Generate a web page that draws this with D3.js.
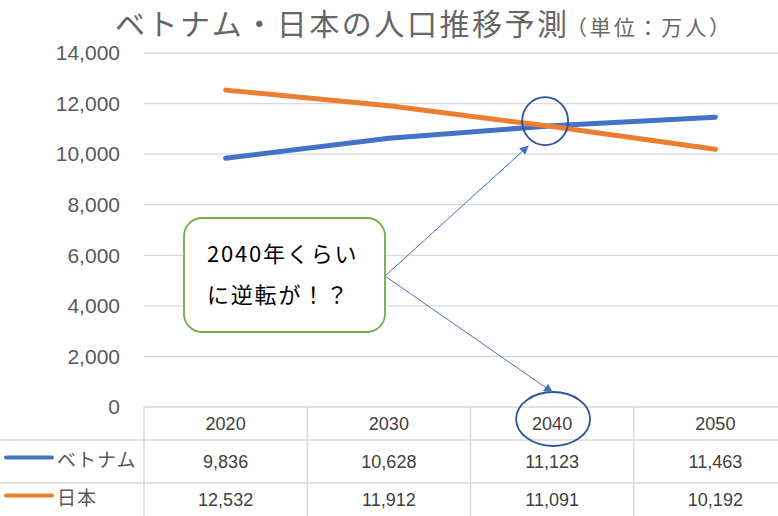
<!DOCTYPE html>
<html>
<head>
<meta charset="utf-8">
<script src="https://cdn.jsdelivr.net/npm/d3@7"></script>
<style>
  body { margin: 0; background: #fff; }
  svg { display: block; }
</style>
</head>
<body>
<script>
var width = 778;
var height = 516;

// data
var years = ["2020", "2030", "2040", "2050"];
var vietnam = [9836, 10628, 11123, 11463];
var japan = [12532, 11912, 11091, 10192];
var yTicks = [0, 2000, 4000, 6000, 8000, 10000, 12000, 14000];
var seriesNames = ["ベトナム", "日本"];
var seriesColors = ["#4472C4", "#ED7D31"];
var callout = ["2040年くらい", "に逆転が！？"];

var numFont = "'Liberation Sans', 'Noto Sans', sans-serif";
var jpFont = "'Noto Sans CJK JP', sans-serif";

var svg = d3.select("body").append("svg")
    .attr("width", width)
    .attr("height", height);

var defs = svg.append("defs");
defs.append("marker")
    .attr("id", "arrow")
    .attr("viewBox", "0 0 10 10")
    .attr("refX", 9).attr("refY", 5)
    .attr("markerWidth", 9).attr("markerHeight", 9)
    .attr("markerUnits", "userSpaceOnUse")
    .attr("orient", "auto")
  .append("path")
    .attr("d", "M0,0 L10,5 L0,10 z")
    .attr("fill", "#4472C4");

// scales
var x = d3.scaleBand().domain(years).range([144, 797]);
var y = d3.scaleLinear().domain([0, 14000]).range([407, 53]);

// gridlines
svg.append("g").selectAll("line")
    .data(yTicks.filter(function(d) { return d > 0; }))
    .enter().append("line")
    .attr("x1", 144).attr("x2", width)
    .attr("y1", function(d) { return y(d); })
    .attr("y2", function(d) { return y(d); })
    .attr("stroke", "#d9d9d9")
    .attr("stroke-width", 1.3);

// y axis labels
var fmt = d3.format(",");
svg.append("g").selectAll("text")
    .data(yTicks)
    .enter().append("text")
    .attr("x", 120)
    .attr("y", function(d) { return y(d); })
    .attr("dy", "0.35em")
    .attr("text-anchor", "end")
    .attr("font-family", numFont)
    .attr("font-size", 21)
    .attr("fill", "#595959")
    .text(function(d) { return fmt(d); });

// data table grid
var rowY = [407, 440, 483, 516];
var grid = svg.append("g").attr("stroke", "#d9d9d9").attr("stroke-width", 1.5);
grid.append("line").attr("x1", 144).attr("x2", width).attr("y1", rowY[0]).attr("y2", rowY[0]);
grid.append("line").attr("x1", 0).attr("x2", width).attr("y1", rowY[1]).attr("y2", rowY[1]);
grid.append("line").attr("x1", 0).attr("x2", width).attr("y1", rowY[2]).attr("y2", rowY[2]);
grid.selectAll(".v")
    .data(years)
    .enter().append("line")
    .attr("class", "v")
    .attr("x1", function(d) { return x(d); })
    .attr("x2", function(d) { return x(d); })
    .attr("y1", rowY[0]).attr("y2", height);

// table header
svg.append("g").selectAll("text")
    .data(years)
    .enter().append("text")
    .attr("x", function(d) { return x(d) + x.bandwidth() / 2; })
    .attr("y", (rowY[0] + rowY[1]) / 2)
    .attr("dy", "0.35em")
    .attr("text-anchor", "middle")
    .attr("font-family", numFont)
    .attr("font-size", 18)
    .attr("fill", "#404040")
    .text(function(d) { return d; });

// table rows
[vietnam, japan].forEach(function(vals, i) {
  var cy = (rowY[i + 1] + rowY[i + 2]) / 2;
  svg.append("g").selectAll("text")
      .data(vals)
      .enter().append("text")
      .attr("x", function(d, j) { return x(years[j]) + x.bandwidth() / 2; })
      .attr("y", cy)
      .attr("dy", "0.35em")
      .attr("text-anchor", "middle")
      .attr("font-family", numFont)
      .attr("font-size", 18)
      .attr("fill", "#404040")
      .text(function(d) { return fmt(d); });

  svg.append("line")
      .attr("x1", 6).attr("x2", 52)
      .attr("y1", cy - 4).attr("y2", cy - 4)
      .attr("stroke", seriesColors[i])
      .attr("stroke-width", 4)
      .attr("stroke-linecap", "round");

  svg.append("text")
      .attr("x", 57)
      .attr("y", cy - 1)
      .attr("dy", "0.35em")
      .attr("font-family", jpFont)
      .attr("font-size", 19)
      .attr("letter-spacing", 1)
      .attr("fill", "#595959")
      .text(seriesNames[i]);
});

// lines
var line = d3.line()
    .x(function(d, i) { return x(years[i]) + x.bandwidth() / 2; })
    .y(function(d) { return y(d); });

[vietnam, japan].forEach(function(vals, i) {
  svg.append("path")
      .datum(vals)
      .attr("d", line)
      .attr("fill", "none")
      .attr("stroke", seriesColors[i])
      .attr("stroke-width", 5)
      .attr("stroke-linecap", "round")
      .attr("stroke-linejoin", "round");
});

// title
svg.append("text")
    .attr("x", 115)
    .attr("y", 35)
    .attr("font-family", jpFont)
    .attr("font-size", 30)
    .attr("textLength", 452)
    .attr("lengthAdjust", "spacing")
    .attr("fill", "#666")
    .text("ベトナム・日本の人口推移予測");
svg.append("text")
    .attr("x", 566)
    .attr("y", 35)
    .attr("font-family", jpFont)
    .attr("font-size", 21)
    .attr("textLength", 164)
    .attr("lengthAdjust", "spacing")
    .attr("fill", "#666")
    .text("（単位：万人）");

// annotation
var cx2040 = x("2040") + x.bandwidth() / 2;
var crossY = (y(vietnam[2]) + y(japan[2])) / 2;

svg.append("ellipse")
    .attr("cx", cx2040 - 7).attr("cy", crossY - 5)
    .attr("rx", 23).attr("ry", 24)
    .attr("fill", "none")
    .attr("stroke", "#2F5597")
    .attr("stroke-width", 1.8);

svg.append("ellipse")
    .attr("cx", cx2040 + 1).attr("cy", 419)
    .attr("rx", 37).attr("ry", 27)
    .attr("fill", "none")
    .attr("stroke", "#2F5597")
    .attr("stroke-width", 1.8);

var ox = 385, oy = 276;
svg.append("line")
    .attr("x1", ox).attr("y1", oy)
    .attr("x2", cx2040 - 24).attr("y2", crossY + 20)
    .attr("stroke", "#4472C4").attr("stroke-width", 1)
    .attr("marker-end", "url(#arrow)");
svg.append("line")
    .attr("x1", ox).attr("y1", oy)
    .attr("x2", cx2040).attr("y2", 392)
    .attr("stroke", "#4472C4").attr("stroke-width", 1)
    .attr("marker-end", "url(#arrow)");

svg.append("rect")
    .attr("x", 184).attr("y", 218)
    .attr("width", 201).attr("height", 114)
    .attr("rx", 18).attr("ry", 18)
    .attr("fill", "#fff")
    .attr("stroke", "#70AD47")
    .attr("stroke-width", 1.8);

svg.append("g").selectAll("text")
    .data(callout)
    .enter().append("text")
    .attr("x", 207)
    .attr("y", function(d, i) { return 254 + i * 41; })
    .attr("dy", "0.35em")
    .attr("font-family", jpFont)
    .attr("font-size", 22)
    .attr("letter-spacing", 1.8)
    .attr("fill", "#000")
    .text(function(d) { return d; });
</script>
</body>
</html>
